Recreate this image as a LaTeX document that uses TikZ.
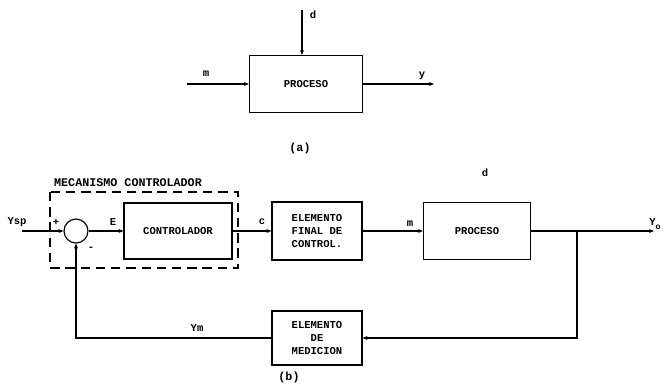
\documentclass[tikz,border=0pt]{standalone}
\usepackage{fontspec}
\setmonofont{Liberation Mono}
\usetikzlibrary{arrows.meta}

\begin{document}
\begin{tikzpicture}[x=0.03cm, y=-0.03cm, every node/.style={font=\ttfamily\bfseries\small}, >={Stealth[length=1.5mm, width=1.2mm]},
	blk/.style={draw, line width=1pt, inner sep=1pt, align=center},
	lab/.style={inner sep=1pt, font=\ttfamily\bfseries\small},
	wire/.style={line width=1pt}]
	\useasboundingbox (0,0) rectangle (663,383);
	% (a) open process
	\node[blk, minimum width=3.39cm, minimum height=1.71cm] (procA) at (306,84) {PROCESO};
	\coordinate (dA) at (302,10);
	\coordinate (mA) at (187,84);
	\coordinate (yA) at (434,84);
	\draw[wire, ->] (dA) -- (dA |- procA.north);
	\draw[wire, ->] (mA) -- (procA.west);
	\draw[wire, ->] (procA.east) -- (yA);
	\node[lab] (ldA) at (313,15) {d};
	\node[lab] (lmA) at (206,74) {m};
	\node[lab] (lyA) at (422,76) {y};
	\node[lab, font=\ttfamily\bfseries\normalsize] (capA) at (300,148) {(a)};
	% (b) closed loop
	\node[lab, font=\ttfamily\bfseries\normalsize] (mec) at (128,183) {MECANISMO CONTROLADOR};
	\draw[line width=1pt, dash pattern=on 8pt off 5pt] (50,192) rectangle (238,268);
	\node[draw, line width=1pt, circle, minimum size=0.72cm, inner sep=0pt] (sum) at (76,231) {};
	\node[blk, minimum width=3.24cm, minimum height=1.68cm] (ctrl) at (178,231) {CONTROLADOR};
	\node[blk, minimum width=2.7cm, minimum height=1.74cm, align=left] (efc) at (317,231) {ELEMENTO\\FINAL DE\\CONTROL.};
	\node[blk, minimum width=3.21cm, minimum height=1.71cm] (procB) at (477,231) {PROCESO};
	\node[blk, minimum width=2.7cm, minimum height=1.62cm] (med) at (317,338) {ELEMENTO\\DE\\MEDICION};
	\coordinate (ysp) at (22,231);
	\coordinate (yo) at (654,231);
	\coordinate (br) at (577,231);
	\coordinate (brd) at (577,338);
	\coordinate (fbl) at (76,338);
	\draw[wire, ->] (ysp) -- (sum.west);
	\draw[wire, ->] (sum.east) -- (ctrl.west);
	\draw[wire, ->] (ctrl.east) -- (efc.west);
	\draw[wire, ->] (efc.east) -- (procB.west);
	\draw[wire, ->] (procB.east) -- (yo);
	\draw[wire, ->] (br) -- (brd) -- (med.east);
	\draw[wire, ->] (med.west) -- (fbl) -- (sum.south);
	\node[lab] (lysp) at (17,222) {Ysp};
	\node[lab] (lplus) at (56,222) {+};
	\node[lab] (lminus) at (91,249) {-};
	\node[lab] (lE) at (113,222) {E};
	\node[lab] (lc) at (262,222) {c};
	\node[lab] (lm) at (410,224) {m};
	\node[lab] (ld) at (485,173) {d};
	\node[lab] (lyo) at (655,224) {Y\raisebox{-3pt}{\scriptsize o}};
	\node[lab] (lym) at (197,328) {Ym};
	\node[lab, font=\ttfamily\bfseries\normalsize] (capB) at (289,377) {(b)};
\end{tikzpicture}
\end{document}
